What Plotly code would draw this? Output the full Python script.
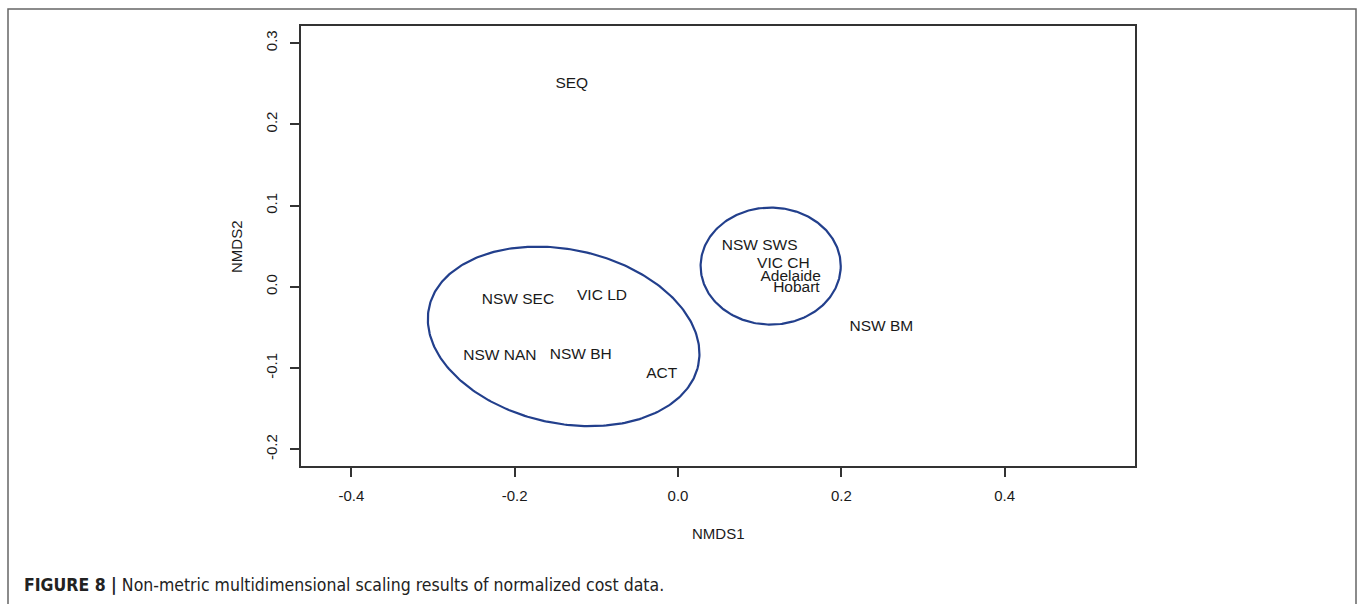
import numpy as np
import plotly.graph_objects as go

# Site labels and NMDS scores
sites = ["SEQ", "NSW SWS", "VIC CH", "Adelaide", "Hobart", "NSW BM",
         "NSW SEC", "VIC LD", "NSW NAN", "NSW BH", "ACT"]
nmds1 = [-0.130, 0.100, 0.129, 0.138, 0.145, 0.249,
         -0.196, -0.093, -0.218, -0.119, -0.020]
nmds2 = [0.249, 0.050, 0.028, 0.012, -0.002, -0.050,
         -0.017, -0.011, -0.085, -0.084, -0.108]

# Group ellipses: centre x, centre y, semi-major, semi-minor, angle (deg)
ell_cx = [-0.140, 0.1135]
ell_cy = [-0.061, 0.0255]
ell_a = [0.1686, 0.0858]
ell_b = [0.1069, 0.0720]
ell_ang = [-12.3, 0.0]

x_ticks = [-0.4, -0.2, 0.0, 0.2, 0.4]
y_ticks = [-0.2, -0.1, 0.0, 0.1, 0.2, 0.3]

ELL_COLOR = "#223f8c"
TXT = "#1a1a1a"
FONT = "Liberation Sans, Arial, sans-serif"

W, H = 1360, 604
L, R, T, B = 301, 1360 - 1135, 26, 604 - 466
PW, PH = W - L - R, H - T - B


def px(xp):  # page x pixel -> paper
    return (xp - L) / PW


def py(yp):  # page y pixel -> paper
    return (H - B - yp) / PH


fig = go.Figure()

t = np.linspace(0, 2 * np.pi, 300)
for cx, cy, a, b, ang in zip(ell_cx, ell_cy, ell_a, ell_b, ell_ang):
    th = np.deg2rad(ang)
    ex = cx + a * np.cos(t) * np.cos(th) - b * np.sin(t) * np.sin(th)
    ey = cy + a * np.cos(t) * np.sin(th) + b * np.sin(t) * np.cos(th)
    fig.add_trace(go.Scatter(x=ex, y=ey, mode="lines",
                             line=dict(color=ELL_COLOR, width=2.2),
                             hoverinfo="skip", showlegend=False))

fig.add_trace(go.Scatter(x=nmds1, y=nmds2, mode="text", text=sites,
                         textposition="middle center",
                         textfont=dict(family=FONT, size=15.5, color=TXT),
                         showlegend=False))

fig.update_layout(
    width=W, height=H, autosize=False,
    margin=dict(l=L, r=R, t=T, b=B),
    paper_bgcolor="white", plot_bgcolor="white",
    font=dict(family=FONT, color=TXT),
    showlegend=False,
)
fig.update_xaxes(range=[-0.4616, 0.5596], tickvals=x_ticks,
                 ticktext=[f"{v:.1f}" for v in x_ticks],
                 showgrid=False, zeroline=False,
                 showline=True, linecolor="#333", linewidth=1.5, mirror=True,
                 ticks="outside", ticklen=9, tickwidth=1.5, tickcolor="#333",
                 ticklabelstandoff=6,
                 tickfont=dict(size=15, family=FONT, color=TXT))
fig.update_yaxes(range=[-0.2205, 0.3209], tickvals=y_ticks,
                 ticktext=[f"{v:.1f}" for v in y_ticks],
                 showgrid=False, zeroline=False,
                 showline=True, linecolor="#333", linewidth=1.5, mirror=True,
                 ticks="outside", ticklen=9, tickwidth=1.5, tickcolor="#333",
                 tickangle=-90, ticklabelstandoff=7,
                 tickfont=dict(size=15, family=FONT, color=TXT))

# axis titles
fig.add_annotation(text="NMDS1", xref="paper", yref="paper",
                   x=px(718), y=py(533), xanchor="center", yanchor="middle",
                   showarrow=False, font=dict(size=15, family=FONT, color=TXT))
fig.add_annotation(text="NMDS2", xref="paper", yref="paper",
                   x=px(237), y=py(247), xanchor="center", yanchor="middle",
                   textangle=-90,
                   showarrow=False, font=dict(size=15, family=FONT, color=TXT))

# caption
fig.add_annotation(text="<b>FIGURE 8 |</b> Non-metric multidimensional scaling results of normalized cost data.",
                   xref="paper", yref="paper",
                   x=px(22), y=py(585),
                   xanchor="left", yanchor="middle", showarrow=False,
                   font=dict(size=17.5, family="Liberation Sans Narrow, Arial Narrow, DejaVu Sans Condensed, sans-serif", color="#222"))

# outer figure frame
fig.add_shape(type="rect", xref="paper", yref="paper",
              x0=px(8), x1=px(1356), y0=py(640), y1=py(9),
              line=dict(color="#666", width=1.5), fillcolor="rgba(0,0,0,0)")

fig.write_html("out.html", config={"displayModeBar": False},
               post_script="document.body.style.margin='0';document.body.style.overflow='hidden';")
